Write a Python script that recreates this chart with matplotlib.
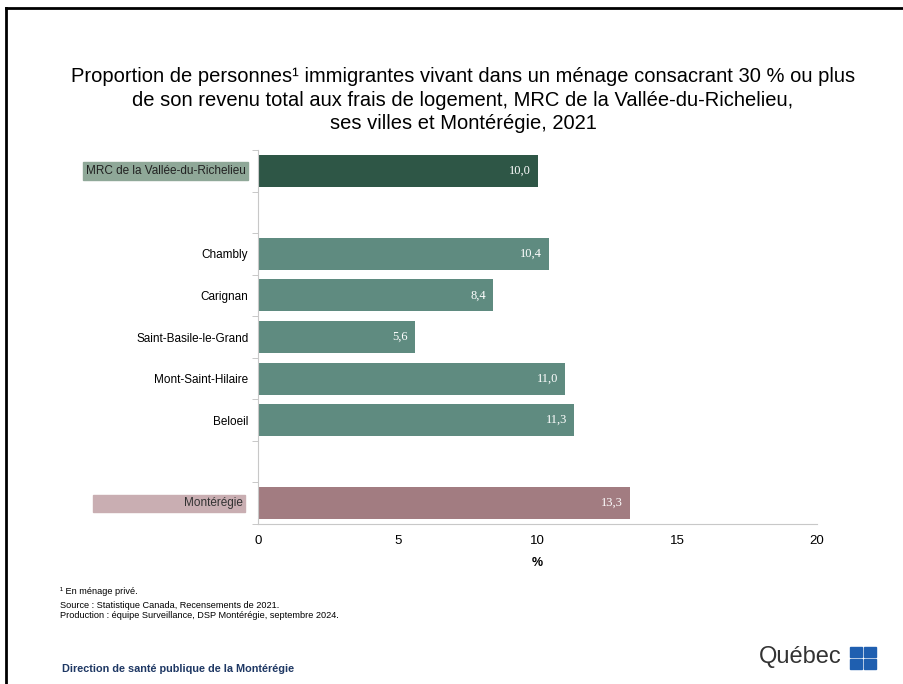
import numpy as np
import matplotlib.pyplot as plt
from matplotlib.patches import Rectangle
from matplotlib.lines import Line2D
import matplotlib.transforms as mtransforms

plt.rcParams['font.family'] = ['Liberation Sans', 'DejaVu Sans']

# données
categories = ["MRC de la Vallée-du-Richelieu", "", "Chambly", "Carignan",
              "Saint-Basile-le-Grand", "Mont-Saint-Hilaire", "Beloeil", "", "Montérégie"]
values = [10.0, np.nan, 10.4, 8.4, 5.6, 11.0, 11.3, np.nan, 13.3]
colors = ["#2e5646", "none", "#5f8b80", "#5f8b80", "#5f8b80", "#5f8b80", "#5f8b80",
          "none", "#a27c81"]
xticks = [0, 5, 10, 15, 20]

fig = plt.figure(figsize=(9.04, 6.84), dpi=100)
ax = fig.add_axes([0.2854, 0.2339, 0.6184, 0.5468])

pos = np.arange(len(categories))
vals = np.nan_to_num(values)
ax.barh(pos, vals, height=0.77, color=colors, edgecolor="none")

for p, v in zip(pos, values):
    if np.isnan(v):
        continue
    ax.text(v - 0.25, p, f"{v:.1f}".replace(".", ","), ha="right", va="center",
            color="white", fontsize=9, family="Liberation Serif")

ax.set_ylim(8.5, -0.5)
ax.set_xlim(0, 20)
ax.set_xticks(xticks)
ax.set_xticklabels([str(t) for t in xticks], fontsize=9.5)
ax.tick_params(axis="x", length=0, pad=8)
ax.set_xlabel("%", fontsize=9, fontweight="bold", labelpad=7)

ax.set_yticks(pos)
ax.set_yticklabels([c if c not in ("MRC de la Vallée-du-Richelieu", "Montérégie") else "" for c in categories],
                   fontsize=8.5)
ax.tick_params(axis="y", length=0, pad=7)
ax.set_yticks(np.arange(-0.5, 9, 1), minor=True)
ax.tick_params(axis="y", which="minor", length=4, color="#bfbfbf")

for s in ["top", "right"]:
    ax.spines[s].set_visible(False)
ax.spines["left"].set_color("#c8c8c8")
ax.spines["bottom"].set_color("#c8c8c8")

# étiquettes surlignées
trans = mtransforms.blended_transform_factory(ax.transAxes, ax.transData)
ax.add_patch(Rectangle((-0.313, -0.21), 0.295, 0.42, transform=trans,
                       color="#8fa898", clip_on=False))
ax.text(-0.022, 0, "MRC de la Vallée-du-Richelieu", transform=trans, ha="right",
        va="center", fontsize=8.5, color="#222222")
ax.add_patch(Rectangle((-0.295, 7.79), 0.272, 0.42, transform=trans,
                       color="#c9aeb2", clip_on=False))
ax.text(-0.027, 8, "Montérégie", transform=trans, ha="right",
        va="center", fontsize=8.5, color="#333333")

fig.text(463 / 904, 1 - 100 / 684,
         "Proportion de personnes¹ immigrantes vivant dans un ménage consacrant 30 % ou plus\n"
         "de son revenu total aux frais de logement, MRC de la Vallée-du-Richelieu,\n"
         "ses villes et Montérégie, 2021",
         ha="center", va="center", fontsize=14.5, linespacing=1.3)

fig.text(60 / 904, 1 - 592 / 684, "¹ En ménage privé.", fontsize=6.6, va="center")
fig.text(60 / 904, 1 - 605 / 684, "Source : Statistique Canada, Recensements de 2021.",
         fontsize=6.6, va="center")
fig.text(60 / 904, 1 - 616 / 684,
         "Production : équipe Surveillance, DSP Montérégie, septembre 2024.",
         fontsize=6.6, va="center")
fig.text(62 / 904, 1 - 669 / 684, "Direction de santé publique de la Montérégie",
         fontsize=7.8, fontweight="bold", color="#1f3864", va="center")

# logo Québec
fig.text(842 / 904, 1 - 657 / 684, "Québec", fontsize=17, color="#333333",
         ha="right", va="center")
for dx in (0, 1):
    for dy in (0, 1):
        fig.patches.append(Rectangle(((850 + dx * 14) / 904, 1 - (657 + dy * 12) / 684),
                                     12 / 904, 10 / 684, color="#1f5fb0",
                                     transform=fig.transFigure))

# cadre
fig.add_artist(Line2D([6 / 904, 1], [1 - 8 / 684, 1 - 8 / 684], color="black", lw=2))
fig.add_artist(Line2D([6 / 904, 6 / 904], [0, 1 - 8 / 684], color="black", lw=2))

fig.savefig("out.png", dpi=100, facecolor="white")
